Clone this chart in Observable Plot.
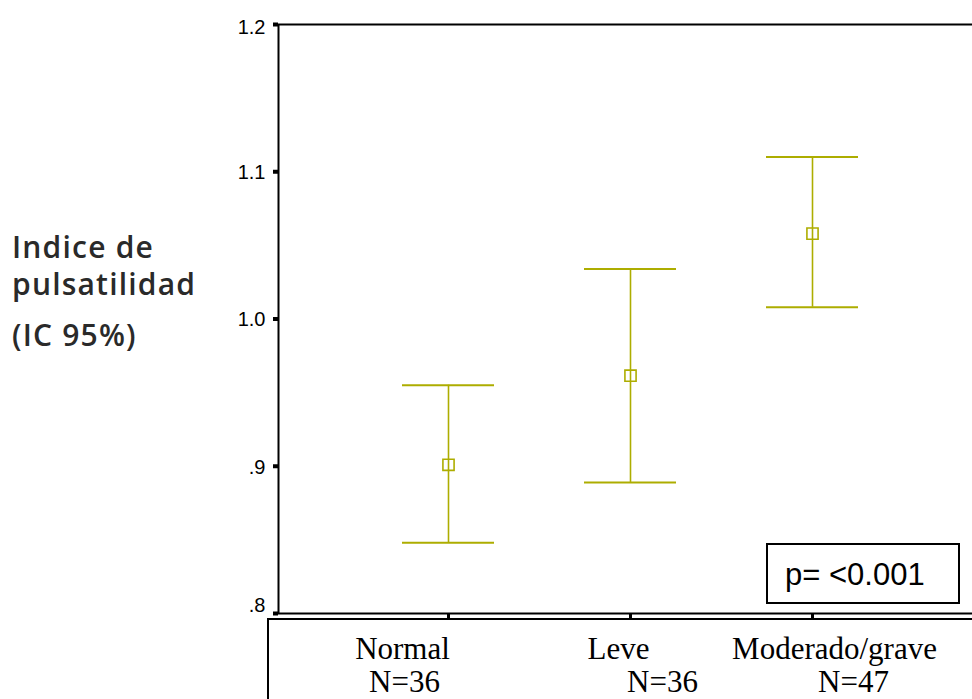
<!DOCTYPE html>
<html>
<head>
<meta charset="utf-8">
<script src="https://cdn.jsdelivr.net/npm/d3@7"></script>
<script src="https://cdn.jsdelivr.net/npm/@observablehq/plot@0.6"></script>
<style>
  html, body { margin: 0; padding: 0; background: white; overflow: hidden; }
  #wrap { position: relative; width: 972px; height: 699px; overflow: hidden; }
  #wrap svg { overflow: hidden; }
  .ylab { position: absolute; left: 12px; font-family: "Open Sans", sans-serif; font-size: 30px; font-weight: 600; letter-spacing: 1.2px; color: #2a2a2a; line-height: 1; white-space: nowrap; }
  #pbox { position: absolute; left: 766px; top: 543px; width: 173px; height: 57px; padding-left: 17px; border: 2px solid black; background: white;
          font-family: "Liberation Sans", Arial, sans-serif; font-size: 31px; text-align: left; line-height: 60px; box-sizing: content-box; }
  #bottombox { position: absolute; left: 267px; top: 618px; width: 800px; height: 200px; border-left: 2px solid black; border-top: 2px solid black; }
</style>
</head>
<body>
<div id="wrap"></div>
<script>
// ---- data ----
const categories = ["Normal", "Leve", "Moderado/grave"];
const nLabels = ["N=36", "N=36", "N=47"];
const means = [0.901, 0.9615, 1.058];
const lower = [0.848, 0.889, 1.008];
const upper = [0.955, 1.034, 1.110];
const yTicks = [0.8, 0.9, 1.0, 1.1, 1.2];
const yTickLabels = [".8", ".9", "1.0", "1.1", "1.2"];
const yLabelLines = ["Indice de", "pulsatilidad", "(IC 95%)"];
const pText = "p= <0.001";

// ---- build ----
const rows = categories.map((c, i) => ({cat: c, n: nLabels[i], mean: means[i], lo: lower[i], hi: upper[i]}));
const tickRows = yTicks.map((v, i) => ({v, label: yTickLabels[i]}));
const color = "#adad00";
const nameDx = [-46, -12, 22];
const nDx = [-44, 32, 41];
const tickDy = [-8, 1, 1, 1, 3]; // label nudges, bottom label sits above its tick, top one below

const labelMarks = [];
rows.forEach((r, i) => {
  labelMarks.push(Plot.text([r], {x: "cat", text: "cat", frameAnchor: "bottom", dy: 45, dx: nameDx[i], lineAnchor: "bottom",
    fontFamily: "Liberation Serif, Times New Roman, serif", fontSize: 31, fill: "black"}));
  labelMarks.push(Plot.text([r], {x: "cat", text: "n", frameAnchor: "bottom", dy: 78, dx: nDx[i], lineAnchor: "bottom",
    fontFamily: "Liberation Serif, Times New Roman, serif", fontSize: 31, fill: "black"}));
});
const tickLabelMarks = tickRows.map((t, i) => Plot.text([t], {y: "v", text: "label", frameAnchor: "left", dx: -13, dy: tickDy[i],
  textAnchor: "end", fontSize: 20, fontFamily: "Liberation Sans, Arial, sans-serif", fill: "black"}));

const chart = Plot.plot({
  width: 972,
  height: 699,
  marginLeft: 278,
  marginRight: -10,
  marginTop: 24,
  marginBottom: 86,
  style: {overflow: "hidden", background: "white"},
  x: {type: "band", domain: categories, paddingInner: 0.496, paddingOuter: 0.675, axis: null},
  y: {domain: [0.8, 1.2], axis: null},
  marks: [
    Plot.frame({stroke: "black", strokeWidth: 2}),
    Plot.axisY({ticks: yTicks, tickFormat: () => "", tickSize: 5, strokeWidth: 4, label: null}),
    ...tickLabelMarks,
    Plot.axisX({tickSize: 5, strokeWidth: 3, tickFormat: () => "", label: null}),
    Plot.ruleX(rows, {x: "cat", y1: "lo", y2: "hi", stroke: color, strokeWidth: 1.6}),
    Plot.tickY(rows, {x: "cat", y: "lo", stroke: color, strokeWidth: 2}),
    Plot.tickY(rows, {x: "cat", y: "hi", stroke: color, strokeWidth: 2}),
    Plot.dot(rows, {x: "cat", y: "mean", symbol: "square", r: 6.3, stroke: color, fill: "none", strokeWidth: 1.6}),
    ...labelMarks
  ]
});

const wrap = document.getElementById("wrap");
wrap.appendChild(chart);
const bb = document.createElement("div"); bb.id = "bottombox"; wrap.appendChild(bb);
const pb = document.createElement("div"); pb.id = "pbox"; pb.textContent = pText; wrap.appendChild(pb);
const tops = [232, 269, 320];
yLabelLines.forEach((t, i) => {
  const d = document.createElement("div");
  d.className = "ylab"; d.textContent = t; d.style.top = tops[i] + "px";
  wrap.appendChild(d);
});
</script>
</body>
</html>
